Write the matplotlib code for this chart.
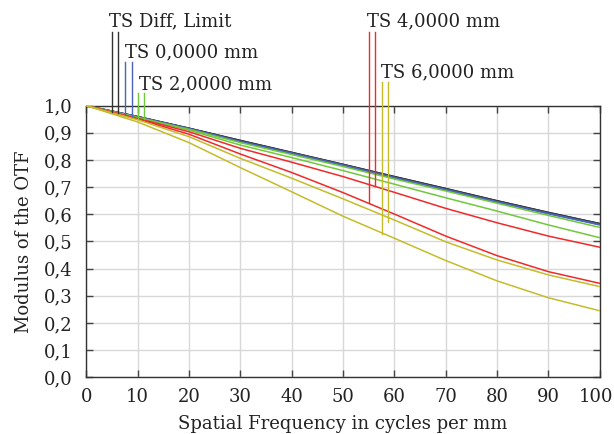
import numpy as np
import matplotlib
matplotlib.use("Agg")
import matplotlib.pyplot as plt
from matplotlib.transforms import ScaledTranslation

# spatial frequency samples (cycles per mm)
freq = [0, 10, 20, 30, 40, 50, 60, 70, 80, 90, 100]

# MTF curves (two per field: tangential / sagittal)
diff_t = [1.0, 0.960, 0.917, 0.872, 0.828, 0.784, 0.739, 0.695, 0.650, 0.607, 0.566]
diff_s = [1.0, 0.960, 0.917, 0.872, 0.828, 0.784, 0.739, 0.695, 0.650, 0.607, 0.566]
ts0_t = [1.0, 0.959, 0.916, 0.869, 0.826, 0.782, 0.736, 0.692, 0.647, 0.604, 0.563]
ts0_s = [1.0, 0.959, 0.915, 0.867, 0.824, 0.780, 0.734, 0.690, 0.645, 0.602, 0.561]
ts2_t = [1.0, 0.957, 0.913, 0.864, 0.820, 0.776, 0.730, 0.686, 0.641, 0.596, 0.552]
ts2_s = [1.0, 0.955, 0.910, 0.855, 0.809, 0.761, 0.711, 0.661, 0.612, 0.561, 0.514]
ts4_t = [1.0, 0.953, 0.904, 0.843, 0.792, 0.739, 0.681, 0.622, 0.569, 0.520, 0.479]
ts4_s = [1.0, 0.951, 0.895, 0.822, 0.754, 0.680, 0.601, 0.520, 0.448, 0.389, 0.346]
ts6_t = [1.0, 0.948, 0.886, 0.806, 0.733, 0.657, 0.579, 0.499, 0.432, 0.377, 0.334]
ts6_s = [1.0, 0.940, 0.864, 0.772, 0.683, 0.593, 0.512, 0.430, 0.355, 0.293, 0.245]

series = [
    (diff_t, diff_s, "#333333"),
    (ts0_t, ts0_s, "#4a64b8"),
    (ts2_t, ts2_s, "#70c83c"),
    (ts4_t, ts4_s, "#f02a2a"),
    (ts6_t, ts6_s, "#c4bc2a"),
]

# label leaders: x positions, top and bottom values
leader_x = [(5.0, 6.25), (7.55, 8.85), (10.0, 11.3), (55.0, 56.3), (57.5, 58.8)]
leader_top = [1.272, 1.160, 1.046, 1.272, 1.086]
leader_bot = [(0.978, 0.974), (0.968, 0.963), (0.955, 0.950), (0.640, 0.705), (0.528, 0.572)]
labels = ["TS Diff, Limit", "TS 0,0000 mm", "TS 2,0000 mm", "TS 4,0000 mm", "TS 6,0000 mm"]
label_x = [4.4, 7.5, 10.3, 54.6, 57.4]
label_y = [1.291, 1.178, 1.060, 1.291, 1.105]

plt.rcParams["font.family"] = ["DejaVu Serif"]
text_col = "#222222"

fig = plt.figure(figsize=(6.14, 4.34), dpi=100)
ax = fig.add_axes([0.1406, 0.1306, 0.8361, 0.6259])

# black first so the blue pair sits on top of it
for t, s, col in series:
    ax.plot(freq, t, color=col, lw=1.1, zorder=3)
    ax.plot(freq, s, color=col, lw=1.1, zorder=3)

for (x1, x2), top, (b1, b2), (_, _, col) in zip(leader_x, leader_top, leader_bot, series):
    ax.plot([x1, x1], [b1, top], color=col, lw=1.0, clip_on=False, zorder=4)
    ax.plot([x2, x2], [b2, top], color=col, lw=1.0, clip_on=False, zorder=4)

for txt, x, y in zip(labels, label_x, label_y):
    ax.text(x, y, txt, ha="left", va="baseline", fontsize=13, color=text_col,
            clip_on=False)

ax.set_xlim(0, 100)
ax.set_ylim(0, 1.0)
ax.set_xticks(np.arange(0, 101, 10))
ax.set_yticks(np.arange(0, 1.01, 0.1))
ax.set_yticklabels([f"{v:.1f}".replace(".", ",") for v in np.arange(0, 1.01, 0.1)])
ax.grid(True, color="#d8d8d8", lw=1.0)
ax.set_axisbelow(True)
ax.tick_params(direction="in", length=5, width=1.0, color="#444444",
               top=True, right=True, labelsize=13, labelcolor=text_col)
ax.tick_params(axis="x", pad=8)
ax.tick_params(axis="y", pad=10)
for sp in ax.spines.values():
    sp.set_color("#333333")
    sp.set_linewidth(1.0)

# nudge the last x label so "100" stays inside the canvas
last = ax.get_xticklabels()[-1]
last.set_transform(last.get_transform() + ScaledTranslation(-4 / 100, 0, fig.dpi_scale_trans))

ax.set_xlabel("Spatial Frequency in cycles per mm", fontsize=13, color=text_col, labelpad=6)
ax.set_ylabel("Modulus of the OTF", fontsize=13, color=text_col, labelpad=8)

fig.savefig("out.png", dpi=100)
